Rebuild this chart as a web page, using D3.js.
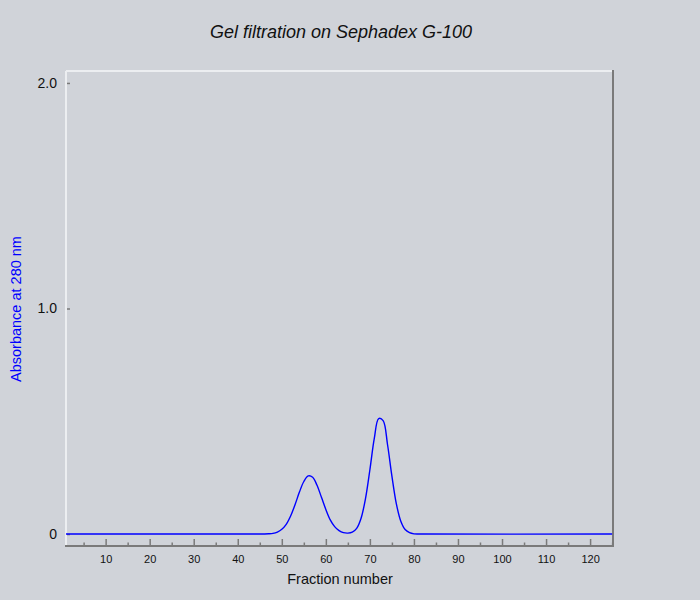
<!DOCTYPE html>
<html>
<head>
<meta charset="utf-8">
<style>
    body { margin: 0; background: #d0d3d9; }
    svg { display: block; font-family: 'Liberation Sans', Arial, sans-serif; }
    .x .domain, .y .domain { display: none; }
    .x .tick line, .y .tick line { stroke: #7a7a7a; stroke-width: 1.5px; }
    .x .tick text { font-size: 11px; fill: #111; }
    .y .tick text { font-size: 14px; fill: #111; }
</style>
</head>
<body>
<svg width="700" height="600"></svg>

<script src="https://d3js.org/d3.v7.min.js"></script>
<script>
    // fraction numbers and absorbance at 280 nm
    let fractions = [1, 44, 45, 46, 47, 48, 49, 50, 51, 52, 53, 54, 55, 56, 57, 58, 59, 60,
        61, 62, 63, 64, 65, 66, 67, 68, 69, 70, 71, 72, 73, 74, 75, 76, 77, 78, 79, 80, 81, 82, 125];
    let absorbance = [0, 0, 0.0001, 0.0003, 0.001, 0.003, 0.009, 0.021, 0.043, 0.080, 0.130, 0.186,
        0.233, 0.258, 0.252, 0.216, 0.163, 0.109, 0.063, 0.033, 0.015, 0.006, 0.004, 0.008, 0.025,
        0.070, 0.157, 0.285, 0.424, 0.512, 0.503, 0.397, 0.257, 0.135, 0.058, 0.020, 0.006, 0.001,
        0.0002, 0, 0];

    let xMajor = [10, 20, 30, 40, 50, 60, 70, 80, 90, 100, 110, 120];
    let xMinor = [5, 15, 25, 35, 45, 55, 65, 75, 85, 95, 105, 115, 125];
    let yTicks = [0, 1.0, 2.0];
    let yTickLabels = ["0", "1.0", "2.0"];

    let data = fractions.map((f, i) => ({ fraction: f, a: absorbance[i] }));

    let margin = { top: 71, right: 87, bottom: 54, left: 66 };
    let width = 700, height = 600;

    let svg = d3.select("svg");

    let x = d3.scaleLinear()
        .domain([1, 125.2])
        .range([margin.left, width - margin.right]);

    let y = d3.scaleLinear()
        .domain([-0.053, 2.053])
        .range([height - margin.bottom, margin.top]);

    // minor x ticks (short, pointing up into the plot)
    svg.append("g")
        .attr("class", "x axis")
        .attr("transform", `translate(0,${height - margin.bottom})`)
        .call(d3.axisBottom(x).tickValues(xMinor).tickSize(-3.5).tickFormat(""));

    svg.append("g")
        .attr("class", "x axis")
        .attr("transform", `translate(0,${height - margin.bottom})`)
        .call(d3.axisBottom(x).tickValues(xMajor).tickSize(-7).tickPadding(9));

    svg.append("g")
        .attr("class", "y axis")
        .attr("transform", `translate(${margin.left},0)`)
        .call(d3.axisLeft(y).tickValues(yTicks).tickSize(-4)
            .tickFormat((d, i) => yTickLabels[i]).tickPadding(9));

    // frame: light top/left, dark right/bottom
    let x0 = margin.left, x1 = width - margin.right;
    let y0 = margin.top, y1 = height - margin.bottom;
    svg.append("line").attr("x1", x0).attr("x2", x1).attr("y1", y0).attr("y2", y0)
        .style("stroke", "#eceef1").style("stroke-width", "2px");
    svg.append("line").attr("x1", x0).attr("x2", x0).attr("y1", y0).attr("y2", y1)
        .style("stroke", "#eceef1").style("stroke-width", "2px");
    svg.append("line").attr("x1", x1).attr("x2", x1).attr("y1", y0 - 1).attr("y2", y1 + 1)
        .style("stroke", "#7a7a7a").style("stroke-width", "2px");
    svg.append("line").attr("x1", x0 - 1).attr("x2", x1 + 1).attr("y1", y1).attr("y2", y1)
        .style("stroke", "#7a7a7a").style("stroke-width", "2px");

    let line = d3.line()
        .x(d => x(d.fraction))
        .y(d => y(d.a))
        .curve(d3.curveCatmullRom.alpha(0.5));

    svg.append("path")
        .datum(data)
        .attr("d", line)
        .style("fill", "none")
        .style("stroke", "#0000ff")
        .style("stroke-width", "1.4px");

    svg.append("text")
        .attr("x", 341)
        .attr("y", 38)
        .attr("text-anchor", "middle")
        .style("font-size", "18px")
        .style("font-style", "italic")
        .style("fill", "#111")
        .text("Gel filtration on Sephadex G-100");

    svg.append("text")
        .attr("x", 340)
        .attr("y", 584)
        .attr("text-anchor", "middle")
        .style("font-size", "14.5px")
        .style("fill", "#111")
        .text("Fraction number");

    svg.append("text")
        .attr("transform", "translate(21,309) rotate(-90)")
        .attr("text-anchor", "middle")
        .style("font-size", "14.5px")
        .style("fill", "#0000ff")
        .text("Absorbance at 280 nm");
</script>
</body>
</html>
